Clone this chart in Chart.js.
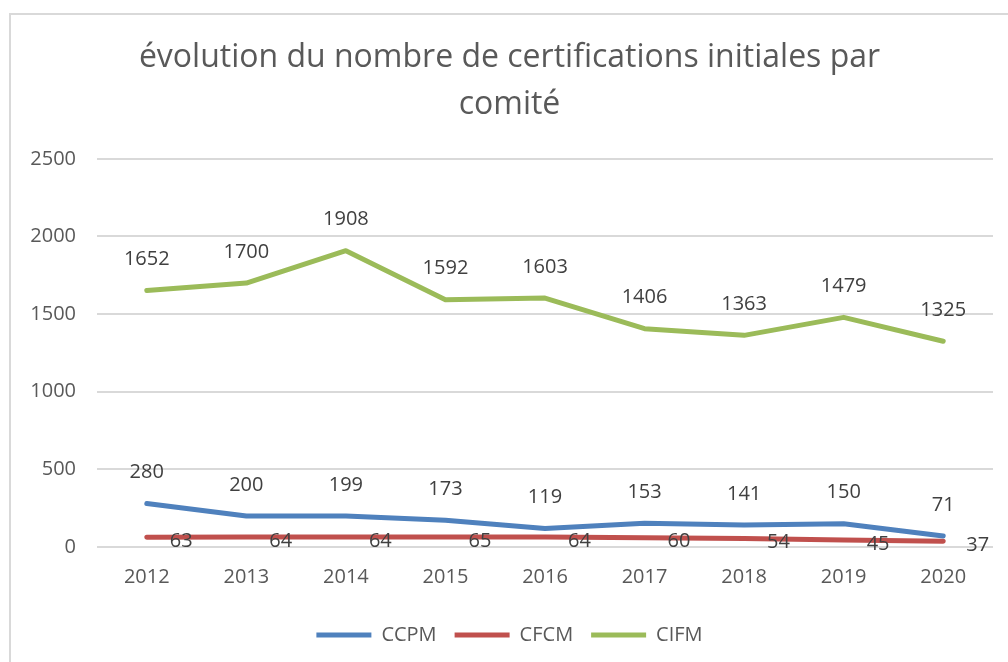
<!DOCTYPE html>
<html>
<head>
<meta charset="utf-8">
<script src="https://cdn.jsdelivr.net/npm/chart.js@4/dist/chart.umd.min.js"></script>
<style>
  html, body { margin: 0; padding: 0; background: #fff; }
  #wrap { position: relative; width: 1008px; height: 662px; overflow: hidden; }
  #frame { position: absolute; left: 9px; top: 13px; width: 1100px; height: 700px; border: 2px solid #d9d9d9; }
  canvas { position: absolute; left: 0; top: 0; }
</style>
</head>
<body>
<div id="wrap">
  <div id="frame"></div>
  <canvas id="chart" width="1008" height="662"></canvas>
</div>
<script>
  // data
  const years = ['2012', '2013', '2014', '2015', '2016', '2017', '2018', '2019', '2020'];
  const ccpm = [280, 200, 199, 173, 119, 153, 141, 150, 71];
  const cfcm = [63, 64, 64, 65, 64, 60, 54, 45, 37];
  const cifm = [1652, 1700, 1908, 1592, 1603, 1406, 1363, 1479, 1325];
  const yTicks = [0, 500, 1000, 1500, 2000, 2500];

  const fontFamily = "'Open Sans', sans-serif";
  const textGrey = '#595959';

  // labels drawn at each point, like excel data labels
  const pointLabels = {
      id: 'pointLabels',
      afterDatasetsDraw(chart) {
          const ctx = chart.ctx;
          ctx.save();
          ctx.font = '20px ' + fontFamily;
          ctx.fillStyle = '#404040';
          chart.data.datasets.forEach((ds, i) => {
              const meta = chart.getDatasetMeta(i);
              meta.data.forEach((pt, j) => {
                  const v = ds.data[j];
                  ctx.textBaseline = 'middle';
                  if (ds.labelPos === 'right') {
                      ctx.textAlign = 'left';
                      ctx.fillText(v, pt.x + 23, pt.y + 4);
                  } else {
                      ctx.textAlign = 'center';
                      ctx.fillText(v, pt.x, pt.y - 31);
                  }
              });
          });
          ctx.restore();
      }
  };

  const lineDs = (label, data, color, labelPos) => ({
      label: label,
      data: data,
      borderColor: color,
      backgroundColor: color,
      borderWidth: 5,
      borderCapStyle: 'round',
      borderJoinStyle: 'round',
      pointRadius: 0,
      pointStyle: 'line',
      tension: 0,
      labelPos: labelPos
  });

  new Chart(document.getElementById('chart'), {
      type: 'line',
      data: {
          labels: years,
          datasets: [
              lineDs('CCPM', ccpm, '#4F81BD', 'top'),
              lineDs('CFCM', cfcm, '#C0504D', 'right'),
              lineDs('CIFM', cifm, '#9BBB59', 'top')
          ]
      },
      options: {
          responsive: false,
          animation: false,
          layout: {
              padding: { left: 26, right: 15, top: 0, bottom: 7 }
          },
          scales: {
              x: {
                  offset: true,
                  grid: { display: false, drawTicks: false },
                  border: { display: false },
                  ticks: {
                      color: textGrey,
                      font: { family: fontFamily, size: 20 },
                      padding: 18,
                      maxRotation: 0
                  }
              },
              y: {
                  min: 0,
                  max: 2500,
                  afterBuildTicks: (scale) => {
                      scale.ticks = yTicks.map(v => ({ value: v }));
                  },
                  afterFit: (scale) => {
                      scale.width = 71;
                  },
                  grid: { color: '#d9d9d9', lineWidth: 2, drawTicks: false },
                  border: { display: false },
                  ticks: {
                      color: textGrey,
                      font: { family: fontFamily, size: 20 },
                      padding: 21,
                      callback: (v) => String(v)
                  }
              }
          },
          plugins: {
              title: {
                  display: true,
                  text: ['évolution du nombre de certifications initiales par', 'comité'],
                  color: textGrey,
                  font: { family: fontFamily, size: 32, weight: 'normal', lineHeight: 1.45 },
                  padding: { top: 35, bottom: 31 }
              },
              legend: {
                  display: true,
                  position: 'bottom',
                  labels: {
                      usePointStyle: true,
                      pointStyleWidth: 55,
                      color: textGrey,
                      font: { family: fontFamily, size: 20 },
                      padding: 18
                  }
              },
              tooltip: { enabled: false }
          }
      },
      plugins: [pointLabels]
  });
</script>
</body>
</html>
